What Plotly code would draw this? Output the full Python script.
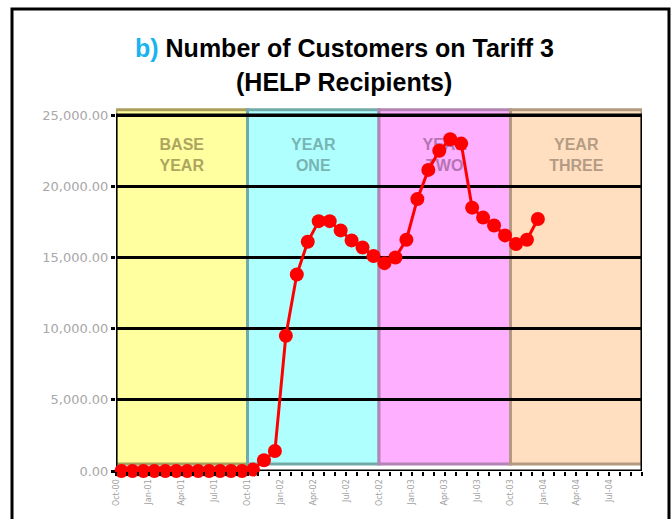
import plotly.graph_objects as go

# ---- data ----
months = ["Oct-00", "Nov-00", "Dec-00", "Jan-01", "Feb-01", "Mar-01", "Apr-01", "May-01", "Jun-01",
          "Jul-01", "Aug-01", "Sep-01", "Oct-01", "Nov-01", "Dec-01", "Jan-02", "Feb-02", "Mar-02",
          "Apr-02", "May-02", "Jun-02", "Jul-02", "Aug-02", "Sep-02", "Oct-02", "Nov-02", "Dec-02",
          "Jan-03", "Feb-03", "Mar-03", "Apr-03", "May-03", "Jun-03", "Jul-03", "Aug-03", "Sep-03",
          "Oct-03", "Nov-03", "Dec-03", "Jan-04", "Feb-04", "Mar-04", "Apr-04", "May-04", "Jun-04",
          "Jul-04", "Aug-04", "Sep-04"]

customers = [0, 0, 0, 0, 0, 0, 0, 0, 0, 0, 0, 0,
             100, 750, 1400, 9500, 13800, 16100, 17550, 17550, 16900, 16200, 15700, 15100,
             14600, 15000, 16250, 19100, 21150, 22500, 23300, 23000, 18500, 17800, 17250, 16550,
             15950, 16250, 17700]

tick_labels = ["Oct-00", "Jan-01", "Apr-01", "Jul-01", "Oct-01", "Jan-02", "Apr-02", "Jul-02",
               "Oct-02", "Jan-03", "Apr-03", "Jul-03", "Oct-03", "Jan-04", "Apr-04", "Jul-04"]

band_names = ["BASE<br>YEAR", "YEAR<br>ONE", "YEAR<br>TWO", "YEAR<br>THREE"]
band_fill = ["#FFFF9F", "#AFFFFF", "#FFAFFF", "#FFDFC0"]
band_edge = ["#AAA05C", "#72AAAA", "#B484B4", "#B49A80"]
band_text = ["#ADA560", "#78B4B4", "#B474B4", "#B49C84"]
months_per_band = 12

# ---- figure ----
fig = go.Figure()

# band labels (drawn beneath the series)
band_x = [i * months_per_band + (months_per_band - 1) / 2 for i in range(len(band_names))]
fig.add_trace(go.Scatter(
    x=band_x, y=[22100] * len(band_names), mode="text", text=band_names,
    textfont=dict(family="Liberation Sans", size=16, color=band_text, weight="bold"),
    hoverinfo="skip", showlegend=False))

fig.add_trace(go.Scatter(
    x=list(range(len(customers))), y=customers, mode="lines+markers",
    line=dict(color="#FF0000", width=3),
    marker=dict(symbol="circle", size=14, color="#FF0000"),
    cliponaxis=False, showlegend=False))

shapes = []
for i in range(len(band_names)):
    shapes.append(dict(type="rect", xref="x", yref="y", layer="below",
                       x0=i * months_per_band - 0.5, x1=(i + 1) * months_per_band - 0.5,
                       y0=500, y1=25370,
                       fillcolor=band_fill[i], line=dict(color=band_edge[i], width=3)))
# plot area border
shapes.append(dict(type="rect", xref="x", yref="y", layer="between",
                   x0=-0.5, x1=len(months) - 0.5, y0=0, y1=25000,
                   line=dict(color="black", width=3)))
# outer chart frame
shapes.append(dict(type="rect", xref="paper", yref="paper", layer="above",
                   x0=-0.1977, x1=1.0513, y0=-0.2, y1=1.2727,
                   line=dict(color="black", width=3)))

tickvals = [k - 0.5 for k in range(len(months) + 1)]
ticktext = [tick_labels[k // 3] if (k % 3 == 0 and k // 3 < len(tick_labels)) else "" for k in range(len(months) + 1)]

fig.update_layout(
    width=671, height=519,
    margin=dict(l=116, r=29, t=108, b=48),
    paper_bgcolor="white", plot_bgcolor="white",
    shapes=shapes,
    showlegend=False,
    annotations=[
        dict(xref="paper", yref="paper", x=0.4335, y=1.1653, xanchor="center", yanchor="middle",
             showarrow=False,
             text="<span style='color:#18B4F0'>b)</span> Number of Customers on Tariff 3",
             font=dict(family="Liberation Sans", size=25, color="black", weight="bold")),
        dict(xref="paper", yref="paper", x=0.4335, y=1.0716, xanchor="center", yanchor="middle",
             showarrow=False, text="(HELP Recipients)",
             font=dict(family="Liberation Sans", size=25, color="black", weight="bold")),
    ],
    xaxis=dict(range=[-0.5, len(months) - 0.5], showgrid=False, zeroline=False, showline=False,
               tickmode="array", tickvals=tickvals, ticktext=ticktext, tickangle=-90,
               ticks="outside", ticklen=4, tickwidth=2, tickcolor="black",
               tickfont=dict(family="DejaVu Sans", size=8, color="#A0A0A0")),
    yaxis=dict(range=[0, 25500], tickmode="array", tickvals=[0, 5000, 10000, 15000, 20000, 25000],
               tickformat=",.2f", showgrid=True, gridcolor="black", gridwidth=3,
               zeroline=False, showline=False,
               ticks="outside", ticklen=4, tickwidth=3, tickcolor="black",
               tickfont=dict(family="DejaVu Sans", size=13, color="#A8A8A8")),
)

fig.write_html("out.html", config={"displayModeBar": False},
               post_script="document.body.style.margin='0';")
